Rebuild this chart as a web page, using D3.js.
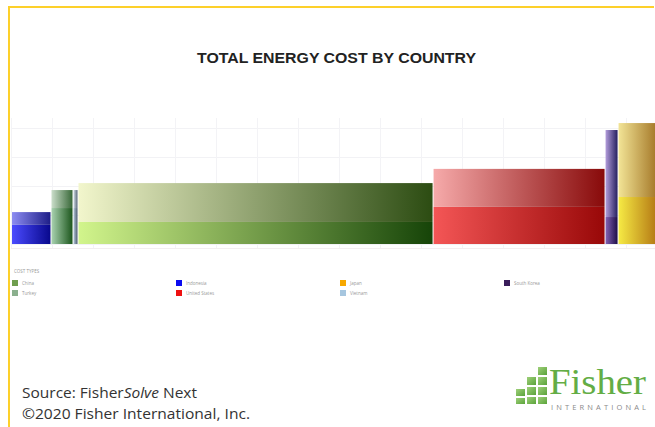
<!DOCTYPE html>
<html><head><meta charset="utf-8">
<script src="https://cdn.jsdelivr.net/npm/d3@7"></script>
<style>html,body{margin:0;padding:0;background:#fff;overflow:hidden}</style>
</head><body>
<script>
// ---- data ----
const countries = ["Indonesia","Turkey","Vietnam","China","United States","South Korea","Japan"];
const capacity  = [9.63, 5.37, 1.22, 86.6, 41.95, 3.17, 10.6];
const costLower = [6.6, 12.4, 12.4, 7.6, 12.8, 9.3, 16.2];
const costTotal = [11.0, 18.6, 18.6, 21.0, 25.9, 39.3, 41.7];
const lowerFrom = ["#4b4bff","#a9d2b0","#b6c8da","#d2f58c","#f45656","#8462b4","#f6ea44"];
const lowerTo   = ["#08088c","#1c561c","#4c5c6e","#164408","#980808","#1e0e48","#ad6c0e"];
const upperFrom = ["#8c8cf2","#cadeca","#d2dce6","#f2f6cc","#f6aaaa","#b29cda","#f2e496"];
const upperTo   = ["#1e1e88","#386838","#5a6878","#2c4c12","#880a0a","#262060","#9c6c1c"];
const legendNames = ["China","Turkey","Indonesia","United States","Japan","Vietnam","South Korea"];
const legendColors = ["#6f9e4e","#8bb08e","#0b0bf0","#ee1010","#f7a800","#a6c6df","#3a1d5a"];
const yTicks = [0,10,20,30,40];
const xTicks = d3.range(0,161,10);

const W=655,H=427;
const svg=d3.select("body").append("svg").attr("width",W).attr("height",H);
const defs=svg.append("defs");

const x=d3.scaleLinear().domain([0,160]).range([12,668]);
const y=d3.scaleLinear().domain([0,43.1]).range([244,119]);

// border
svg.append("path").attr("d","M9,427V7H654").attr("fill","none").attr("stroke","#fdd02a").attr("stroke-width",2);

// title
svg.append("text").attr("x",336.5).attr("y",62.5).attr("text-anchor","middle")
  .attr("font-family","Liberation Sans, Arial, sans-serif").attr("font-weight","bold")
  .attr("font-size",14.5).attr("fill","#222").attr("textLength",279).attr("lengthAdjust","spacingAndGlyphs")
  .text("TOTAL ENERGY COST BY COUNTRY");

// grid
const g=svg.append("g");
g.selectAll("line.h").data(yTicks).join("line").attr("class","h")
  .attr("x1",11).attr("x2",655).attr("y1",d=>y(d)+0.5).attr("y2",d=>y(d)+0.5)
  .attr("stroke","#f2f2f5").attr("stroke-width",1);
g.selectAll("line.v").data(xTicks).join("line").attr("class","v")
  .attr("x1",d=>x(d)-0.5).attr("x2",d=>x(d)-0.5).attr("y1",118).attr("y2",249)
  .attr("stroke","#f3f3f6").attr("stroke-width",1);
g.append("line").attr("x1",11).attr("x2",655).attr("y1",248.5).attr("y2",248.5).attr("stroke","#f3eef0");

// bars
let cum=0;
const bars=countries.map((c,i)=>{const s=cum;cum+=capacity[i];return {c,i,s,e:cum};});
bars.forEach(b=>{
  ["L","U"].forEach(k=>{
    const gr=defs.append("linearGradient").attr("id","g"+k+b.i).attr("x1","0").attr("x2","1").attr("y1","0").attr("y2","0");
    gr.append("stop").attr("offset","0").attr("stop-color",k==="L"?lowerFrom[b.i]:upperFrom[b.i]);
    gr.append("stop").attr("offset","1").attr("stop-color",k==="L"?lowerTo[b.i]:upperTo[b.i]);
  });
});
const bg=svg.append("g");
bg.selectAll("rect.lower").data(bars).join("rect").attr("class","lower")
  .attr("x",d=>x(d.s)).attr("width",d=>Math.max(1,x(d.e)-x(d.s)-1))
  .attr("y",d=>y(costLower[d.i])).attr("height",d=>y(0)-y(costLower[d.i]))
  .attr("fill",d=>`url(#gL${d.i})`);
bg.selectAll("rect.upper").data(bars).join("rect").attr("class","upper")
  .attr("x",d=>x(d.s)).attr("width",d=>Math.max(1,x(d.e)-x(d.s)-1))
  .attr("y",d=>y(costTotal[d.i])).attr("height",d=>y(costLower[d.i])-y(costTotal[d.i]))
  .attr("fill",d=>`url(#gU${d.i})`);

// legend
svg.append("text").attr("x",14).attr("y",273).attr("font-family","Open Sans, sans-serif")
  .attr("font-size",4.5).attr("fill","#999").text("COST TYPES");
const colX=[12,176,340,504], rowY=[283,293];
const lg=svg.append("g").selectAll("g").data(legendNames).join("g")
  .attr("transform",(d,i)=>`translate(${colX[Math.floor(i/2)]},${rowY[i%2]})`);
lg.append("rect").attr("x",0).attr("y",-3).attr("width",6).attr("height",6).attr("fill",(d,i)=>legendColors[i]);
lg.append("text").attr("x",10).attr("y",1.5).attr("font-family","Open Sans, sans-serif")
  .attr("font-size",4.5).attr("fill","#999").text(d=>d);

// footer
const f=svg.append("g").attr("font-family","Open Sans, Noto Sans, sans-serif").attr("font-size",14.5).attr("fill","#333");
const t1=f.append("text").attr("x",22).attr("y",397.5).attr("textLength",175).attr("lengthAdjust","spacingAndGlyphs");
t1.append("tspan").text("Source: Fisher");
t1.append("tspan").attr("font-style","italic").text("Solve");
t1.append("tspan").text(" Next");
f.append("text").attr("x",22).attr("y",418.5).attr("textLength",228).attr("lengthAdjust","spacingAndGlyphs").text("©2020 Fisher International, Inc.");

// logo
const logo=svg.append("g");
const sq=[[538,367,9,8],[538,377,9,8],[527,377,9,8],[538,387,9,8],[527,387,9,8],[516,389,9,7],[538,397,9,7],[527,397,9,7],[516,398,9,6]];
const lgGrad=defs.append("linearGradient").attr("id","logoG").attr("x1","0").attr("y1","0").attr("x2","1").attr("y2","1");
lgGrad.append("stop").attr("offset","0").attr("stop-color","#9fd07a");
lgGrad.append("stop").attr("offset","1").attr("stop-color","#5aa33a");
logo.selectAll("rect").data(sq).join("rect").attr("x",d=>d[0]).attr("y",d=>d[1]).attr("width",d=>d[2]).attr("height",d=>d[3]).attr("fill","url(#logoG)");
logo.append("text").attr("x",549).attr("y",394).attr("font-family","Liberation Serif, DejaVu Serif, serif")
  .attr("font-size",36).attr("fill","#63ad45").attr("textLength",97).attr("lengthAdjust","spacingAndGlyphs").text("Fisher");
logo.append("text").attr("x",551).attr("y",410).attr("font-family","Open Sans, sans-serif")
  .attr("font-size",7.5).attr("fill","#8a8a8a").attr("textLength",95).attr("lengthAdjust","spacing").text("INTERNATIONAL");
</script>
</body></html>
